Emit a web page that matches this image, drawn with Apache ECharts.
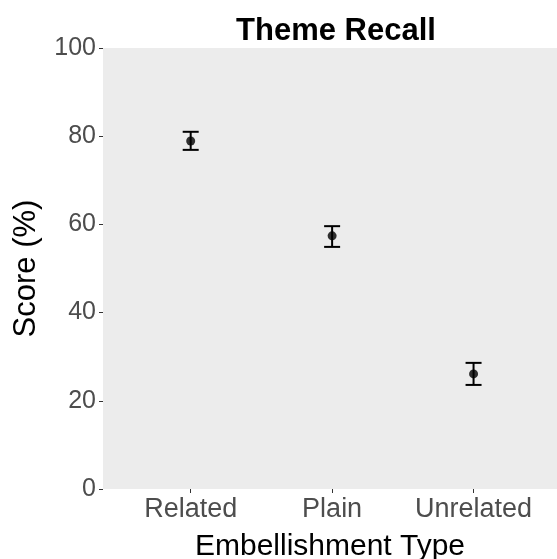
<!DOCTYPE html>
<html>
<head>
<meta charset="utf-8">
<script src="https://cdn.jsdelivr.net/npm/echarts@6/dist/echarts.min.js"></script>
<style>
  html, body { margin: 0; padding: 0; background: #ffffff; }
  #chart { width: 557px; height: 559px; }
</style>
</head>
<body>
<div id="chart"></div>
<script>
// Embellishment types along the x axis
const categories = ['Related', 'Plain', 'Unrelated'];
// Mean theme-recall score (%) per type
const meanScores = [78.9, 57.4, 26.1];
// Error bar bounds (%)
const upperBounds = [81.0, 59.6, 28.6];
const lowerBounds = [76.9, 54.9, 23.6];
// Y axis ticks
const yTicks = [0, 20, 40, 60, 80, 100];

const pointData = categories.map((c, i) => [i + 1, meanScores[i]]);
const barData = categories.map((c, i) => [i + 1, lowerBounds[i], upperBounds[i]]);

const chart = echarts.init(document.getElementById('chart'));
const labelFont = 'Liberation Sans, Arial, Helvetica, sans-serif';

chart.setOption({
  backgroundColor: '#ffffff',
  animation: false,
  title: {
    text: 'Theme Recall',
    left: 331,
    top: 11,
    textAlign: 'center',
    textStyle: { fontFamily: labelFont, fontSize: 31, fontWeight: 'bold', color: '#000000' }
  },
  grid: {
    left: 103, right: 0, top: 48, bottom: 70,
    outerBoundsMode: 'none',
    containLabel: false,
    show: true, backgroundColor: '#ececec', borderWidth: 0
  },
  xAxis: {
    type: 'value',
    min: 0.38,
    max: 3.59,
    name: 'Embellishment Type',
    nameLocation: 'middle',
    nameGap: 43,
    nameTextStyle: { fontFamily: labelFont, fontSize: 30, color: '#000000' },
    axisLine: { show: false },
    axisTick: { show: true, length: 4, customValues: [1, 2, 3], lineStyle: { color: '#333333', width: 1 } },
    axisLabel: {
      customValues: [1, 2, 3],
      formatter: v => categories[Math.round(v) - 1] || '',
      fontFamily: labelFont, fontSize: 27, color: '#4d4d4d', margin: 7
    },
    splitLine: { show: false }
  },
  yAxis: {
    type: 'value',
    min: yTicks[0],
    max: yTicks[yTicks.length - 1],
    interval: 20,
    name: 'Score (%)',
    nameLocation: 'middle',
    nameGap: 61,
    nameTextStyle: { fontFamily: labelFont, fontSize: 31, color: '#000000' },
    axisLine: { show: false },
    axisTick: { show: true, length: 4, lineStyle: { color: '#333333', width: 1 } },
    axisLabel: { fontFamily: labelFont, fontSize: 25, color: '#4d4d4d', margin: 7 },
    splitLine: { show: false }
  },
  series: [
    {
      type: 'custom',
      data: barData,
      renderItem: function (params, api) {
        const x = api.value(0);
        const lo = api.coord([x, api.value(1)]);
        const hi = api.coord([x, api.value(2)]);
        const half = 8;
        const style = { stroke: '#000000', lineWidth: 2 };
        return {
          type: 'group',
          children: [
            { type: 'line', shape: { x1: lo[0], y1: lo[1], x2: hi[0], y2: hi[1] }, style },
            { type: 'line', shape: { x1: hi[0] - half, y1: hi[1], x2: hi[0] + half, y2: hi[1] }, style },
            { type: 'line', shape: { x1: lo[0] - half, y1: lo[1], x2: lo[0] + half, y2: lo[1] }, style }
          ]
        };
      },
      z: 2
    },
    {
      type: 'scatter',
      data: pointData,
      symbol: 'circle',
      symbolSize: 9,
      itemStyle: { color: '#000000' },
      z: 3
    }
  ]
});
</script>
</body>
</html>
